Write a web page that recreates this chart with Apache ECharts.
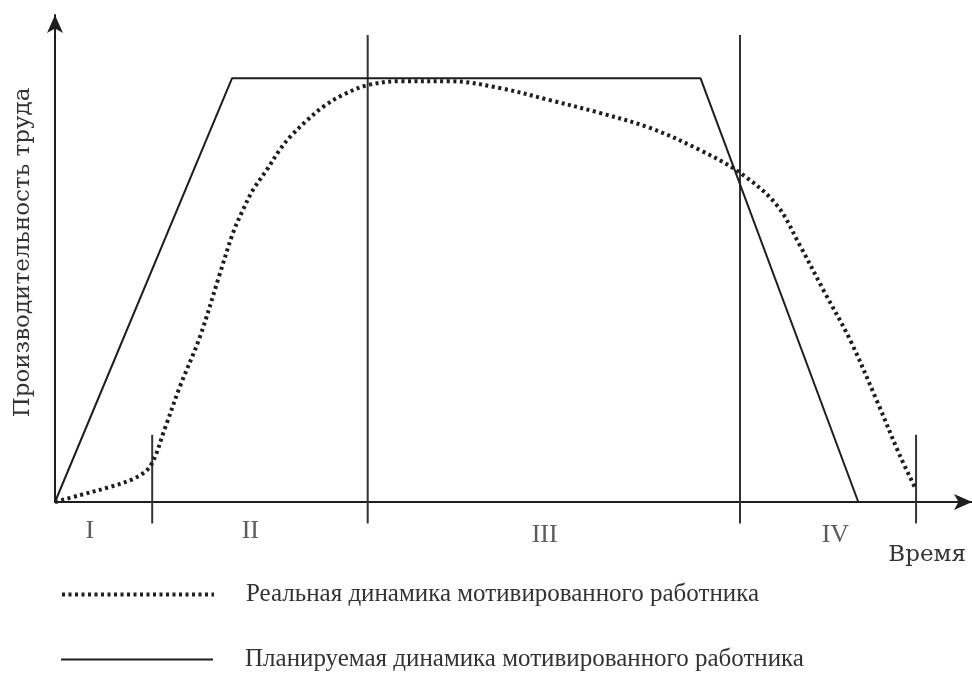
<!DOCTYPE html>
<html>
<head>
<meta charset="utf-8">
<script src="https://cdn.jsdelivr.net/npm/echarts@6/dist/echarts.min.js"></script>
<style>html,body{margin:0;padding:0;background:#fff}#c{width:972px;height:675px}</style>
</head>
<body>
<div id="c"></div>
<script>
// Planned dynamics (solid trapezoid)
const planX = [0, 19.3, 70.4, 87.6];
const planY = [0, 87, 87, 0];
// Real dynamics (dotted curve)
const realX = [0, 2.7, 6.0, 8.7, 10.4, 12.0, 13.6, 15.8, 18.0, 19.4, 20.5, 21.6, 23.1, 24.5, 25.6, 27.5, 29.2, 31.4, 34.1, 37.6, 43.1, 48.5, 54.0, 59.4, 64.9, 70.3, 74.7, 78.7, 81.2, 83.8, 86.7, 89.6, 92.1, 93.8];
const realY = [0, 1.4, 3.1, 4.9, 7.4, 15.2, 23.6, 33.9, 47.0, 55.2, 60.0, 64.1, 68.2, 72.3, 74.9, 78.4, 81.1, 83.6, 85.6, 86.4, 86.4, 85.0, 82.5, 79.9, 76.8, 72.3, 67.6, 61.0, 52.8, 43.5, 33.3, 20.9, 9.7, 2.9];
// Phase dividers
const dividerX = [10.6, 34.1, 74.7, 93.9];
const dividerTop = [13.8, 95.9, 95.9, 13.8];
const dividerBottom = -4.4;
// Phase labels
const phaseLabels = ['I', 'II', 'III', 'IV'];
const phaseX = [3.8, 21.3, 53.4, 85.1];
const phaseY = [-6.0, -6.0, -6.8, -6.8];
const seriesNames = ['Реальная динамика мотивированного работника', 'Планируемая динамика мотивированного работника'];
const xName = 'Время';
const yName = 'Производительность труда';

const zip = (a, b) => a.map((v, i) => [v, b[i]]);
const ink = '#1e1e1e';

const series = [];
dividerX.forEach((x, i) => {
  series.push({
    type: 'line', data: [[x, dividerBottom], [x, dividerTop[i]]],
    symbol: 'none', clip: false, silent: true,
    lineStyle: { color: '#333', width: 2 }, z: 1
  });
});
series.push({
  name: seriesNames[1], type: 'line', data: zip(planX, planY),
  symbol: 'none', clip: false, color: ink,
  itemStyle: { color: ink },
  lineStyle: { color: ink, width: 2, type: 'solid' }, z: 3
});
series.push({
  name: seriesNames[0], type: 'line', data: zip(realX, realY),
  symbol: 'none', smooth: 0.35, clip: false, color: ink,
  itemStyle: { color: ink },
  lineStyle: { color: ink, width: 4, type: [3, 3.5] }, z: 4
});
series.push({
  type: 'scatter', symbolSize: 0, clip: false, silent: true,
  data: phaseLabels.map((t, i) => ({ value: [phaseX[i], phaseY[i]], name: t })),
  label: { show: true, position: 'inside', formatter: p => p.name,
           fontFamily: 'Liberation Serif', fontSize: 26, color: '#333' }
});

const legendBase = {
  orient: 'horizontal', left: 55, itemWidth: 152, itemHeight: 20,
  itemStyle: { opacity: 0 },
  textStyle: { fontFamily: 'Liberation Serif', fontSize: 25, color: '#333', padding: [0, 0, 0, 27] }
};

const chart = echarts.init(document.getElementById('c'), null, { renderer: 'canvas' });
chart.setOption({
  animation: false,
  backgroundColor: '#fff',
  grid: { left: 55, right: 0, top: 15, bottom: 173 },
  xAxis: {
    type: 'value', min: 0, max: 100,
    name: xName, nameLocation: 'end', nameGap: 0,
    nameTextStyle: { fontFamily: 'DejaVu Serif', fontSize: 23, color: '#333',
                     align: 'right', verticalAlign: 'top', padding: [42, 6, 0, 0] },
    axisLine: { onZero: true, symbol: ['none', 'arrow'], symbolSize: [12, 18],
                lineStyle: { color: ink, width: 2 } },
    axisTick: { show: false }, axisLabel: { show: false }, splitLine: { show: false }
  },
  yAxis: {
    type: 'value', min: 0, max: 100,
    name: yName, nameLocation: 'middle', nameRotate: 90, nameGap: 20,
    nameTextStyle: { fontFamily: 'DejaVu Serif', fontSize: 23, color: '#333', padding: [0, 0, 0, 12] },
    axisLine: { symbol: ['none', 'arrow'], symbolSize: [12, 18],
                lineStyle: { color: ink, width: 2 } },
    axisTick: { show: false }, axisLabel: { show: false }, splitLine: { show: false }
  },
  legend: [
    Object.assign({}, legendBase, { top: 577, data: [seriesNames[0]],
      lineStyle: { width: 4, type: [3, 3.5] } }),
    Object.assign({}, legendBase, { top: 642, data: [seriesNames[1]],
      lineStyle: { width: 2 } })
  ],
  series: series
});
</script>
</body>
</html>
